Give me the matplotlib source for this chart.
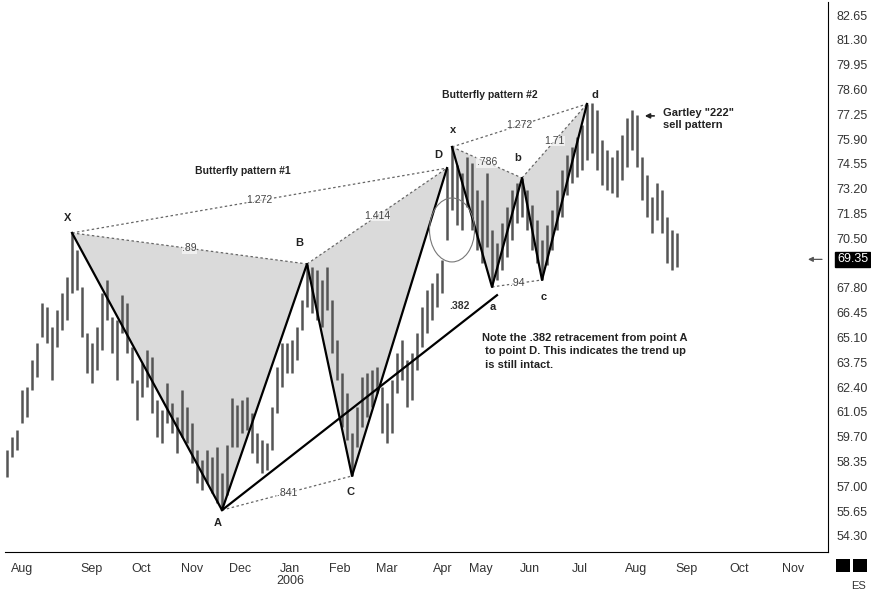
import matplotlib
matplotlib.use("Agg")
import matplotlib.pyplot as plt
from matplotlib.patches import Polygon, Ellipse, Rectangle

highs = [58.98, 59.69, 60.06, 62.24, 62.40, 63.88, 64.80, 66.98, 66.76, 65.67,
         66.60, 67.52, 68.39, 70.79, 69.86, 67.85, 65.34, 64.80, 65.67, 67.52,
         68.23, 66.22, 66.05, 67.41, 66.98, 64.58, 62.79, 63.71, 64.42, 64.04,
         61.70, 61.15, 62.62, 61.54, 60.77, 62.24, 61.32, 60.45, 58.98, 58.43,
         58.98, 58.60, 59.14, 57.72, 59.25, 61.81, 61.43, 61.70, 61.86, 61.00,
         59.90, 59.52, 59.36, 61.32, 63.50, 64.80, 64.80, 64.97, 65.67, 67.14,
         69.10, 68.94, 68.77, 68.23, 68.94, 67.14, 64.97, 63.17, 62.08, 59.90,
         61.32, 62.95, 63.17, 63.33, 63.50, 62.40, 61.54, 62.79, 64.26, 64.97,
         63.88, 64.26, 65.34, 66.76, 67.69, 68.07, 68.61, 69.32, 74.32, 75.47,
         74.49, 74.05, 74.93, 74.60, 73.13, 72.58, 74.05, 70.95, 70.24, 71.33,
         72.20, 73.13, 73.51, 73.78, 73.13, 72.31, 71.50, 70.41, 71.23, 72.04,
         73.13, 74.22, 75.03, 75.47, 76.01, 76.67, 77.81, 77.86, 77.48, 75.85,
         75.31, 74.93, 75.31, 76.12, 77.05, 77.48, 77.21, 74.93, 73.95, 72.75,
         73.51, 73.13, 71.66, 70.95, 70.79]
lows = [57.51, 58.60, 58.98, 60.45, 60.78, 62.24, 62.95, 65.13, 64.80, 62.79,
        64.58, 65.51, 66.05, 67.52, 67.69, 65.13, 63.17, 62.62, 63.33, 64.42,
        66.05, 64.26, 62.79, 65.34, 64.26, 62.62, 60.61, 61.86, 62.40, 61.00,
        59.68, 59.36, 60.45, 59.90, 58.81, 59.68, 59.36, 58.27, 57.18, 56.80,
        57.18, 56.64, 56.09, 55.70, 56.53, 59.14, 59.14, 59.90, 60.06, 58.81,
        58.27, 57.72, 57.89, 58.98, 61.00, 62.40, 63.17, 63.17, 63.88, 65.51,
        66.76, 66.44, 66.05, 65.67, 66.60, 64.26, 62.79, 60.23, 59.52, 57.56,
        59.14, 60.23, 60.77, 61.32, 62.08, 59.90, 59.36, 59.90, 62.08, 62.79,
        61.32, 61.70, 63.33, 64.58, 65.34, 66.05, 66.76, 67.52, 70.41, 72.04,
        71.23, 70.95, 72.20, 70.95, 69.86, 69.15, 70.03, 67.85, 68.23, 68.77,
        69.48, 70.41, 71.33, 71.66, 70.95, 69.86, 69.15, 68.23, 69.05, 69.86,
        70.95, 71.66, 72.85, 73.51, 73.84, 74.22, 74.76, 75.14, 74.22, 73.40,
        73.13, 72.96, 72.75, 73.67, 74.38, 75.31, 74.38, 72.58, 71.66, 70.79,
        71.50, 70.79, 69.15, 68.77, 68.94]
last_close = 69.35

months = ['Aug', 'Sep', 'Oct', 'Nov', 'Dec', 'Jan\n2006', 'Feb', 'Mar', 'Apr',
          'May', 'Jun', 'Jul', 'Aug', 'Sep', 'Oct', 'Nov']
month_pos = [3.0, 17.0, 26.8, 37.0, 46.6, 56.6, 66.6, 76.0, 87.2, 94.8, 104.6,
             114.6, 125.8, 136.0, 146.4, 157.2]
price_ticks = [82.65, 81.30, 79.95, 78.60, 77.25, 75.90, 74.55, 73.20, 71.85,
               70.50, 67.80, 66.45, 65.10, 63.75, 62.40, 61.05, 59.70, 58.35,
               57.00, 55.65, 54.30]

# pivots: bar index, alternating high / low
p1_idx = [13, 43, 60, 69, 88]
p1_names = ['X', 'A', 'B', 'C', 'D']
p1_ratios = ['1.272', '.89', '1.414', '.841']
p2_idx = [89, 97, 103, 107, 116]
p2_names = ['x', 'a', 'b', 'c', 'd']
p2_ratios = ['1.272', '.786', '1.71', '.94']
retrace_end = (98, 67.4)

FONT = ['Liberation Sans', 'DejaVu Sans']
NARROW = ['Liberation Sans Narrow', 'Liberation Sans', 'DejaVu Sans']

fig = plt.figure(figsize=(8.71, 5.92), dpi=100)
ax = fig.add_axes([5 / 871, 40 / 592, 823 / 871, 550 / 592])
ax.set_xlim(-0.4, 164.2)
ax.set_ylim(53.42, 83.36)

idx = list(range(len(highs)))
ax.vlines(idx, lows, highs, color='#555555', lw=1.8, zorder=2)


def draw_pattern(pidx, names, ratios, offsets):
    pts = []
    for k, i in enumerate(pidx):
        pts.append((i, highs[i] if k % 2 == 0 else lows[i]))
    for tri in [(0, 1, 2), (2, 3, 4)]:
        ax.add_patch(Polygon([pts[t] for t in tri], closed=True, facecolor='#dadada',
                             edgecolor='none', zorder=1))
    ax.plot([p[0] for p in pts], [p[1] for p in pts], color='black', lw=1.6, zorder=4)
    for (a, b), r in zip([(0, 4), (0, 2), (2, 4), (1, 3)], ratios):
        ax.plot([pts[a][0], pts[b][0]], [pts[a][1], pts[b][1]], color='#666666',
                lw=0.9, ls=(0, (2, 2)), zorder=3)
        mx = (pts[a][0] + pts[b][0]) / 2
        my = (pts[a][1] + pts[b][1]) / 2
        ax.text(mx, my, r, fontsize=7.5, color='#444444', ha='center', va='center',
                family=FONT, zorder=5,
                bbox=dict(facecolor='white', edgecolor='none', pad=0.3, alpha=0.6))
    for p, n, off in zip(pts, names, offsets):
        ax.annotate(n, p, xytext=off, textcoords='offset pixels', ha='center', va='center',
                    fontsize=8, fontweight='bold', color='#222222', family=FONT, zorder=6)
    return pts


pts1 = draw_pattern(p1_idx, p1_names, p1_ratios,
                    [(-4, 15), (-4, -13), (-8, 21), (-2, -16), (-9, 13)])
pts2 = draw_pattern(p2_idx, p2_names, p2_ratios,
                    [(1, 17), (1, -20), (-4, 20), (2, -17), (8, 9)])

# .382 retracement line from A
ax.plot([pts1[1][0], retrace_end[0]], [pts1[1][1], retrace_end[1]], color='black',
        lw=1.6, zorder=4)
ax.text(90.4, 66.8, '.382', fontsize=7.5, color='#333333', ha='center', va='center',
        family=FONT, fontweight='bold', zorder=5)

ax.add_patch(Ellipse((89, 70.95), 9, 3.48, facecolor='none', edgecolor='#777777',
                     lw=0.8, zorder=5))

ax.text(47.2, 74.16, 'Butterfly pattern #1', fontsize=7.5, fontweight='bold',
        ha='center', va='center', color='#222222', family=FONT)
ax.text(96.6, 78.30, 'Butterfly pattern #2', fontsize=7.5, fontweight='bold',
        ha='center', va='center', color='#222222', family=FONT)
ax.text(95.0, 65.35, 'Note the .382 retracement from point A\n'
        ' to point D. This indicates the trend up\n is still intact.',
        fontsize=8, fontweight='bold', ha='left', va='top', color='#222222',
        family=FONT, linespacing=1.45)
ax.annotate('', xy=(127, 77.16), xytext=(130, 77.16),
            arrowprops=dict(arrowstyle='-|>', color='#222222', lw=1.2,
                            mutation_scale=7))
ax.text(131.2, 77.6, 'Gartley "222"\nsell pattern', fontsize=8, fontweight='bold',
        ha='left', va='top', color='#222222', family=FONT, linespacing=1.3)

# axes styling
for s in ['top', 'left']:
    ax.spines[s].set_visible(False)
ax.spines['right'].set_color('black')
ax.spines['bottom'].set_color('black')
ax.yaxis.tick_right()
ax.set_yticks(price_ticks)
ax.set_yticklabels(['%.2f' % v for v in price_ticks])
ax.set_xticks(month_pos)
ax.set_xticklabels(months)
ax.tick_params(axis='y', length=0, pad=6, labelsize=9, labelcolor='#333333')
ax.tick_params(axis='x', length=0, pad=8, labelsize=9, labelcolor='#333333')
for lab in ax.get_xticklabels() + ax.get_yticklabels():
    lab.set_family(NARROW)
    lab.set_linespacing(0.95)

# last price marker
ax.annotate('%.2f' % last_close, xy=(1, last_close), xycoords=('axes fraction', 'data'),
            xytext=(9, 0), textcoords='offset pixels', ha='left', va='center',
            fontsize=9, color='white', family=NARROW, annotation_clip=False,
            bbox=dict(facecolor='black', edgecolor='black', pad=1.2))
ax.annotate('', xy=(160.2, last_close), xytext=(163.0, last_close),
            arrowprops=dict(arrowstyle='-|>', color='#555555', lw=0.9,
                            mutation_scale=7, shrinkA=0, shrinkB=0))

# legend squares and symbol
for x0 in [836, 853]:
    fig.add_artist(Rectangle((x0 / 871, 20 / 592), 14 / 871, 13 / 592,
                             transform=fig.transFigure, facecolor='black',
                             edgecolor='none'))
fig.text(858 / 871, 6 / 592, 'ES', fontsize=8, ha='center', va='center',
         color='#333333', family=NARROW)

fig.savefig('out.png', dpi=100, facecolor='white')
